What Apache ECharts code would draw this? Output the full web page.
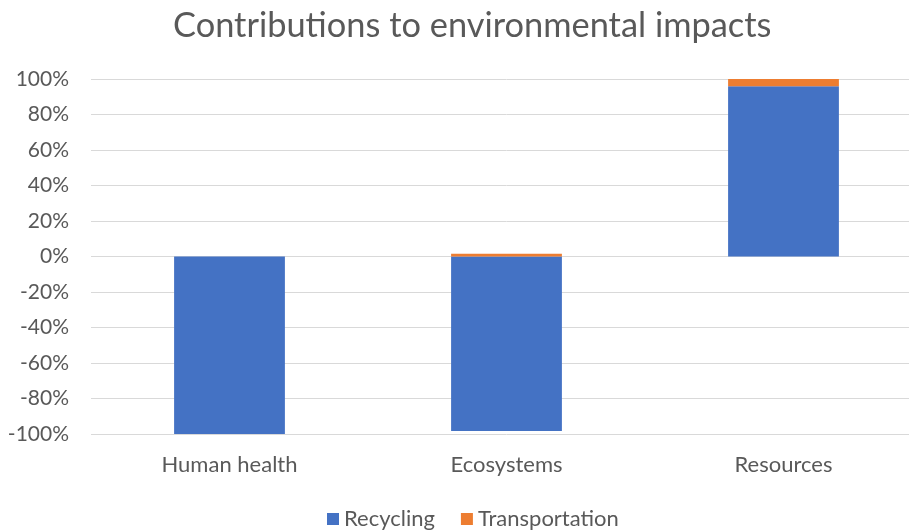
<!DOCTYPE html>
<html><head><meta charset="utf-8">
<script src="https://cdn.jsdelivr.net/npm/echarts@6/dist/echarts.min.js"></script>
<style>html,body{margin:0;padding:0;background:#fff;overflow:hidden}#c{width:922px;height:532px}</style>
</head><body><div id="c"></div>
<script>
var categories = ['Human health', 'Ecosystems', 'Resources'];
var recycling = [-100, -98.3, 95.9];
var transportation = [0, 1.6, 4.1];
var yTicks = { min: -100, max: 100, interval: 20 };

var chart = echarts.init(document.getElementById('c'));
var font = 'Lato, "Open Sans", sans-serif';
chart.setOption({
  animation: false,
  title: { text: 'Contributions to environmental impacts', left: 168, top: 4,
    textStyle: { fontFamily: font, fontSize: 34.4, fontWeight: 'normal', color: '#595959' } },
  legend: { top: 503, left: 322, itemWidth: 12, itemHeight: 12, itemGap: 26,
    icon: 'rect', textStyle: { fontFamily: font, fontSize: 22, color: '#595959' },
    data: ['Recycling', 'Transportation'] },
  grid: { left: 91, right: 0, top: 79, bottom: 98, containLabel: false },
  xAxis: { type: 'category', data: categories,
    axisLine: { show: false }, axisTick: { show: false },
    axisLabel: { fontFamily: font, fontSize: 22, color: '#595959', margin: 20 } },
  yAxis: { type: 'value', min: yTicks.min, max: yTicks.max, interval: yTicks.interval,
    axisLabel: { formatter: '{value}%', fontFamily: font, fontSize: 21, color: '#595959', margin: 22 },
    splitLine: { lineStyle: { color: '#D9D9D9', width: 1 } },
    axisLine: { show: false }, axisTick: { show: false } },
  series: [
    { name: 'Recycling', type: 'bar', stack: 's', data: recycling, barWidth: '40%',
      itemStyle: { color: '#4472C4' } },
    { name: 'Transportation', type: 'bar', stack: 's', data: transportation, barWidth: '40%',
      itemStyle: { color: '#ED7D31' } }
  ]
});
</script></body></html>
